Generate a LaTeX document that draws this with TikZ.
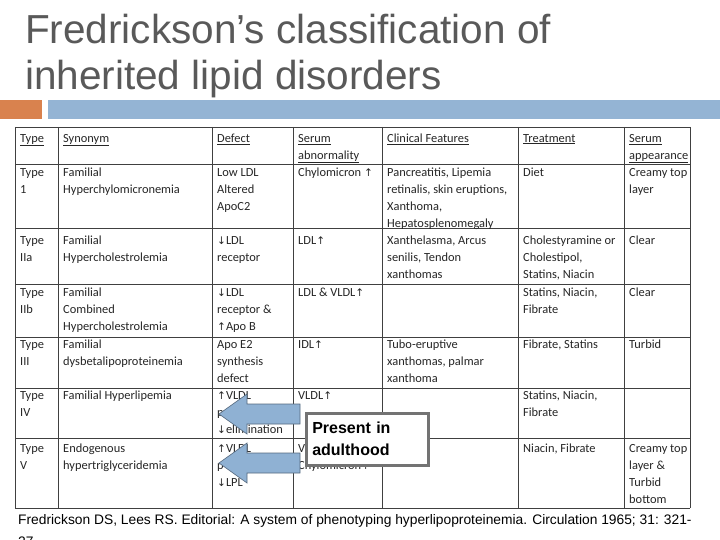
\documentclass[tikz,border=0pt]{standalone}
\usepackage{fontspec}
\setmainfont{Liberation Sans}
\newfontfamily\carl{Carlito}
\newfontfamily\dvs{DejaVu Sans}
\newcommand{\up}{{\dvs\fontsize{10.5}{17}\selectfont↑}}
\newcommand{\dn}{{\dvs\fontsize{10.5}{17}\selectfont↓}}
\definecolor{ttl}{HTML}{595959}
\definecolor{org}{HTML}{D9824E}
\definecolor{blu}{HTML}{94B4D4}
\definecolor{arr}{HTML}{8FB1D3}
\begin{document}
\begin{tikzpicture}[x=1pt,y=-1pt,
 cell/.style={anchor=north west,align=left,inner sep=0pt,yshift=-4pt,font=\carl\fontsize{12.4}{17}\selectfont,text=black!85},
 grid/.style={draw=black!75,line width=0.8pt},
 barrow/.style={fill=arr,draw=arr!60!black,line width=0.6pt}]
\clip (0,0) rectangle (720,540);
\fill[white] (0,0) rectangle (720,540);
\node[anchor=west,text=ttl,font=\fontsize{40.5}{46}\selectfont,align=left,inner sep=0pt] (title) at (25,56) {Fredrickson’s classification of\\inherited lipid disorders};
\fill[org] (0,100) rectangle (42,119);
\fill[blu] (48,100) rectangle (720,119);
% table grid
\foreach \x in {15,58,212,293,382,518,624,690} \draw[grid] (\x,127) -- (\x,508);
\foreach \y in {127,164,228,284,337,388,438,508} \draw[grid] (15,\y) -- (690,\y);
% header
\foreach \x/\t in {58/Synonym,212/Defect,382/Clinical Features,518/Treatment}
  \node[cell] at (\x+5,130) {\underline{\t}};
\node[cell] at (20,130) {\underline{Type}};
\node[cell] at (298,130) {\underline{Serum}\\\underline{abnormality}};
\node[cell] at (629,130) {\underline{Serum}\\\underline{appearance}};
% rows
\node[cell] at (20,164) {Type\\1};
\node[cell] at (63,164) {Familial\\Hyperchylomicronemia};
\node[cell] at (217,164) {Low LDL\\Altered\\ApoC2};
\node[cell] at (298,164) {Chylomicron \up};
\node[cell] at (387,164) {Pancreatitis, Lipemia\\retinalis, skin eruptions,\\Xanthoma,\\Hepatosplenomegaly};
\node[cell] at (523,164) {Diet};
\node[cell] at (629,164) {Creamy top\\layer};
\node[cell] at (20,232) {Type\\IIa};
\node[cell] at (63,232) {Familial\\Hypercholestrolemia};
\node[cell] at (217,232) {\dn LDL\\receptor};
\node[cell] at (298,232) {LDL\up};
\node[cell] at (387,232) {Xanthelasma, Arcus\\senilis, Tendon\\xanthomas};
\node[cell] at (523,232) {Cholestyramine or\\Cholestipol,\\Statins, Niacin};
\node[cell] at (629,232) {Clear};
\node[cell] at (20,284) {Type\\IIb};
\node[cell] at (63,284) {Familial\\Combined\\Hypercholestrolemia};
\node[cell] at (217,284) {\dn LDL\\receptor \&\\\up Apo B};
\node[cell] at (298,284) {LDL \& VLDL\up};
\node[cell] at (523,284) {Statins, Niacin,\\Fibrate};
\node[cell] at (629,284) {Clear};
\node[cell] at (20,336) {Type\\III};
\node[cell] at (63,336) {Familial\\dysbetalipoproteinemia};
\node[cell] at (217,336) {Apo E2\\synthesis\\defect};
\node[cell] at (298,336) {IDL\up};
\node[cell] at (387,336) {Tubo-eruptive\\xanthomas, palmar\\xanthoma};
\node[cell] at (523,336) {Fibrate, Statins};
\node[cell] at (629,336) {Turbid};
\node[cell] at (20,387) {Type\\IV};
\node[cell] at (63,387) {Familial Hyperlipemia};
\node[cell] at (217,387) {\up VLDL\\p\\\dn elimination};
\node[cell] at (298,387) {VLDL\up};
\node[cell] at (523,387) {Statins, Niacin,\\Fibrate};
\node[cell] at (20,440) {Type\\V};
\node[cell] at (63,440) {Endogenous\\hypertriglyceridemia};
\node[cell] at (217,440) {\up VLDL\\p\\\dn LPL};
\node[cell] at (298,440) {VLDL\up\\Chylomicron\up};
\node[cell] at (523,440) {Niacin, Fibrate};
\node[cell] at (629,440) {Creamy top\\layer \&\\Turbid\\bottom};
% callout arrows
\foreach \n/\yc in {a1/414,a2/463}{
  \draw[barrow] (219,\yc) -- (247,\yc-20) -- (247,\yc-10) -- (300,\yc-10) -- (300,\yc+10) -- (247,\yc+10) -- (247,\yc+20) -- cycle;
  \coordinate (\n) at (219,\yc);
}
\node[draw=black!55,line width=2.5pt,fill=white,minimum width=122pt,minimum height=52pt,anchor=north west,align=left,text width=110pt,font=\bfseries\fontsize{16}{22}\selectfont] (box) at (305,412) {Present in\\adulthood};
% footer
\node[anchor=north west,inner sep=0pt,align=left,font=\fontsize{13.8}{22}\selectfont] (foot) at (18,514) {Fredrickson DS, Lees RS. Editorial: A system of phenotyping hyperlipoproteinemia. Circulation 1965; 31: 321-\\27};
\end{tikzpicture}
\end{document}
